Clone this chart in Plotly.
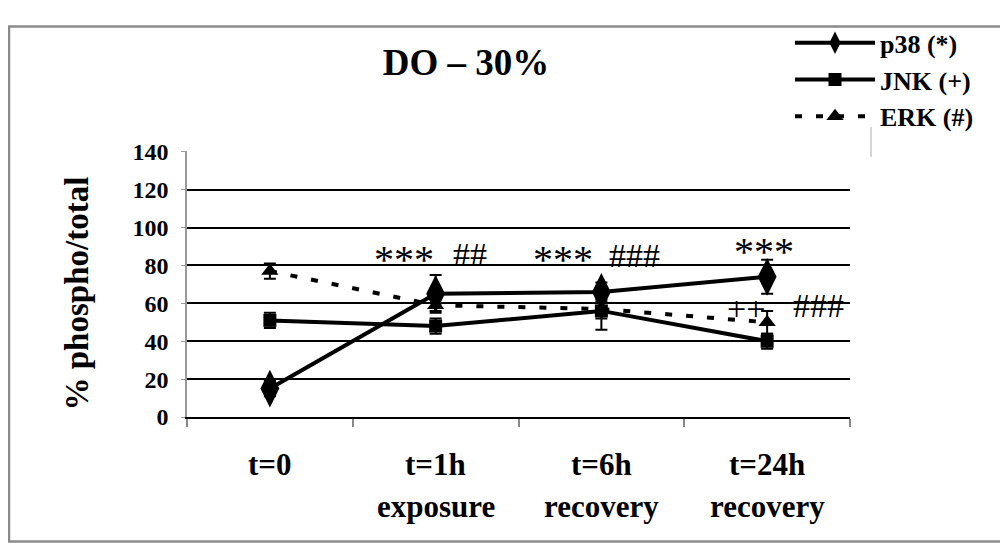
import plotly.graph_objects as go

# ---- data ----
x_pos = [0, 1, 2, 3]
x_line1 = ["t=0", "t=1h", "t=6h", "t=24h"]
x_line2 = ["", "exposure", "recovery", "recovery"]

p38 = [15, 65, 66, 74]
p38_err = [4, 10, 5, 9]
jnk = [51, 48, 56, 40]
jnk_err = [4, 4, 10, 4]
erk = [77, 59, 57, 50]
erk_err = [4, 3, 5, 6]

y_ticks = [0, 20, 40, 60, 80, 100, 120, 140]

# significance marks: (x in category units, y value, text, font size)
sig_x = [0.81, 1.21, 1.77, 2.2, 2.98, 2.87, 3.31]
sig_y = [83, 86, 83, 85, 87.5, 57.5, 59]
sig_text = ["***", "##", "***", "###", "***", "++", "###"]
sig_size = [40, 34, 40, 34, 40, 34, 34]

FONT = "Liberation Serif"

fig = go.Figure()

fig.add_trace(go.Scatter(
    x=x_pos, y=p38, name="p38 (*)", mode="lines+markers",
    line=dict(color="black", width=4),
    marker=dict(symbol="diamond-tall", size=27, color="black"),
    error_y=dict(type="data", array=p38_err, color="black", thickness=2, width=6),
))
fig.add_trace(go.Scatter(
    x=x_pos, y=jnk, name="JNK (+)", mode="lines+markers",
    line=dict(color="black", width=4),
    marker=dict(symbol="square", size=13, color="black"),
    error_y=dict(type="data", array=jnk_err, color="black", thickness=2, width=6),
))
fig.add_trace(go.Scatter(
    x=x_pos, y=erk, name="ERK (#)", mode="lines+markers",
    line=dict(color="black", width=4, dash="7px,14px"),
    marker=dict(symbol="triangle-up", size=15, color="black"),
    error_y=dict(type="data", array=erk_err, color="black", thickness=2, width=6),
))

annotations = []
for xv, yv, t, fs in zip(sig_x, sig_y, sig_text, sig_size):
    annotations.append(dict(x=xv, y=yv, xref="x", yref="y", text=t, showarrow=False,
                            font=dict(family=FONT, size=fs, color="black"),
                            xanchor="center", yanchor="middle"))
for xv, t1, t2 in zip(x_pos, x_line1, x_line2):
    annotations.append(dict(x=xv, y=-0.18, xref="x", yref="paper", text="<b>%s</b>" % t1,
                            showarrow=False, font=dict(family=FONT, size=31, color="black"),
                            xanchor="center", yanchor="middle"))
    if t2:
        annotations.append(dict(x=xv, y=-0.338, xref="x", yref="paper", text="<b>%s</b>" % t2,
                                showarrow=False, font=dict(family=FONT, size=31, color="black"),
                                xanchor="center", yanchor="middle"))
annotations.append(dict(x=-0.166, y=0.464, xref="paper", yref="paper",
                        text="<b>% phospho/total</b>", textangle=-90, showarrow=False,
                        font=dict(family=FONT, size=33, color="black"),
                        xanchor="center", yanchor="middle"))

# page is offset by the 8px body margin; plot area spans 663 x 278 px
shapes = [
    dict(type="rect", xref="paper", yref="paper",
         x0=(1 - 179) / 663, x1=(998 - 179) / 663,
         y0=(409 - 539) / 278, y1=(409 - 1) / 278,
         line=dict(color="#8a8a8a", width=2.5), fillcolor="rgba(0,0,0,0)"),
    dict(type="line", xref="paper", yref="paper", x0=1.0317, x1=1.0317, y0=0.977, y1=1.09,
         line=dict(color="#c8c8c8", width=1.5)),
]

fig.update_layout(
    width=1008, height=550,
    margin=dict(l=179, r=166, t=131, b=141),
    paper_bgcolor="white", plot_bgcolor="white",
    title=dict(text="<b>DO – 30%</b>", x=458 / 1008, xanchor="center", xref="container",
               y=1 - 54 / 550, yanchor="middle",
               font=dict(family=FONT, size=37, color="black")),
    showlegend=True,
    legend=dict(x=0.9095, y=1.495, xanchor="left", yanchor="top", bgcolor="rgba(0,0,0,0)",
                font=dict(family=FONT, size=26, color="black", weight="bold"),
                itemwidth=80, tracegroupgap=0),
    annotations=annotations,
    shapes=shapes,
    xaxis=dict(range=[-0.5, 3.5], tickvals=[-0.5, 0.5, 1.5, 2.5, 3.5],
               ticktext=["", "", "", "", ""], ticks="outside", ticklen=8, tickwidth=1.5,
               tickcolor="#888888", showgrid=False, zeroline=False,
               showline=True, linecolor="black", linewidth=2, fixedrange=True),
    yaxis=dict(range=[0, 140.4], tickvals=y_ticks, ticktext=[str(v) for v in y_ticks],
               showgrid=True, gridcolor="black", gridwidth=2,
               zeroline=False, showline=True, linecolor="#999999", linewidth=1.5,
               ticks="outside", ticklen=4, tickcolor="#999999", ticklabelstandoff=8,
               tickfont=dict(family=FONT, size=24, color="black", weight="bold"),
               fixedrange=True),
)

fig.write_html("out.html")
